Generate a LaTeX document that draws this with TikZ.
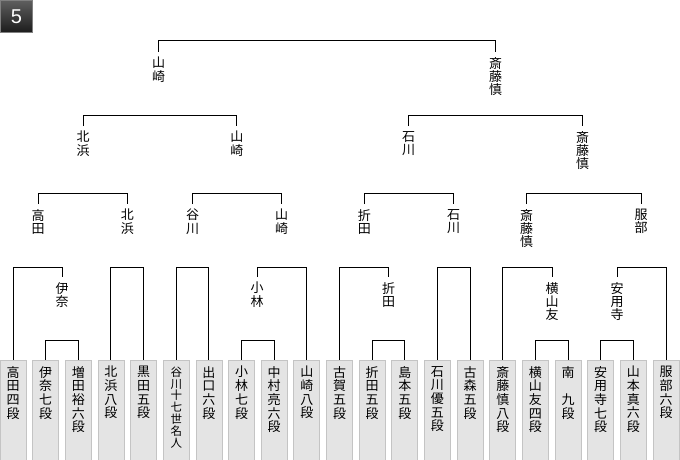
\documentclass[tikz,border=0pt]{standalone}
\usepackage{fontspec}
\usetikzlibrary{calc}
\newfontfamily\cjk{Noto Sans CJK JP}
\newfontfamily\lat{Liberation Sans}
\definecolor{boxfill}{HTML}{E4E4E4}
\definecolor{boxline}{HTML}{C4C4C4}
\definecolor{badgetop}{HTML}{5E5E5E}
\definecolor{badgebot}{HTML}{1C1C1C}
\begin{document}
\begin{tikzpicture}[x=1pt,y=-1pt,
  lbl/.style={font=\cjk\fontsize{13}{13.3}\selectfont, align=center, inner xsep=0pt, inner ysep=5pt, anchor=north},
  pbox/.style={draw=boxline, fill=boxfill, line width=0.8pt, minimum width=26pt, minimum height=100pt, inner sep=0pt, anchor=north},
  ptext/.style={font=\cjk\fontsize{13}{13.7}\selectfont, align=center, inner sep=0pt, anchor=north},
  ptextsmall/.style={font=\cjk\fontsize{11.5}{11.9}\selectfont, align=center, inner sep=0pt, anchor=north},
  conn/.style={draw=black, line width=1pt},
  badge/.style={draw=gray, line width=0.6pt, top color=badgetop, bottom color=badgebot, minimum width=32pt, minimum height=32pt, inner sep=0pt, text=white, font=\lat\fontsize{20}{20}\selectfont}
]
\useasboundingbox (0,0) rectangle (680,460);

% badge
\node[badge] (badge) at (16.5,16.5) {5};

% player boxes
\foreach \i in {0,...,20}{
  \node[pbox] (b\i) at ({13+32.65*\i},359.5) {};
}
\node[ptext] (t0) at ($(b0.north)+(0,6.5)$) {高\\田\\四\\段};
\node[ptext] (t1) at ($(b1.north)+(0,6.5)$) {伊\\奈\\七\\段};
\node[ptext] (t2) at ($(b2.north)+(0,6.5)$) {増\\田\\裕\\六\\段};
\node[ptext] (t3) at ($(b3.north)+(0,6.5)$) {北\\浜\\八\\段};
\node[ptext] (t4) at ($(b4.north)+(0,6.5)$) {黒\\田\\五\\段};
\node[ptextsmall] (t5) at ($(b5.north)+(0,7)$) {谷\\川\\十\\七\\世\\名\\人};
\node[ptext] (t6) at ($(b6.north)+(0,6.5)$) {出\\口\\六\\段};
\node[ptext] (t7) at ($(b7.north)+(0,6.5)$) {小\\林\\七\\段};
\node[ptext] (t8) at ($(b8.north)+(0,6.5)$) {中\\村\\亮\\六\\段};
\node[ptext] (t9) at ($(b9.north)+(0,6.5)$) {山\\崎\\八\\段};
\node[ptext] (t10) at ($(b10.north)+(0,6.5)$) {古\\賀\\五\\段};
\node[ptext] (t11) at ($(b11.north)+(0,6.5)$) {折\\田\\五\\段};
\node[ptext] (t12) at ($(b12.north)+(0,6.5)$) {島\\本\\五\\段};
\node[ptext] (t13) at ($(b13.north)+(0,6.5)$) {石\\川\\優\\五\\段};
\node[ptext] (t14) at ($(b14.north)+(0,6.5)$) {古\\森\\五\\段};
\node[ptext] (t15) at ($(b15.north)+(0,6.5)$) {斎\\藤\\慎\\八\\段};
\node[ptext] (t16) at ($(b16.north)+(0,6.5)$) {横\\山\\友\\四\\段};
\node[ptext] (t17) at ($(b17.north)+(0,6.5)$) {南\\\phantom{九}\\九\\段};
\node[ptext] (t18) at ($(b18.north)+(0,6.5)$) {安\\用\\寺\\七\\段};
\node[ptext] (t19) at ($(b19.north)+(0,6.5)$) {山\\本\\真\\六\\段};
\node[ptext] (t20) at ($(b20.north)+(0,6.5)$) {服\\部\\六\\段};

% round-of-16 winners
\node[lbl] (r1) at (62,277) {伊\\奈};
\node[lbl] (r2) at (257,277) {小\\林};
\node[lbl] (r3) at (388.5,277) {折\\田};
\node[lbl] (r4) at (552,277) {横\\山\\友};
\node[lbl] (r5) at (617,277) {安\\用\\寺};

% quarter-final winners
\node[lbl] (q1) at (38,204) {高\\田};
\node[lbl] (q2) at (127.3,204) {北\\浜};
\node[lbl] (q3) at (192.5,204) {谷\\川};
\node[lbl] (q4) at (281.7,204) {山\\崎};
\node[lbl] (q5) at (364.3,204) {折\\田};
\node[lbl] (q6) at (453.7,204) {石\\川};
\node[lbl] (q7) at (526.5,204) {斎\\藤\\慎};
\node[lbl] (q8) at (641,204) {服\\部};

% semi-final winners
\node[lbl] (s1) at (83,126) {北\\浜};
\node[lbl] (s2) at (236.8,126) {山\\崎};
\node[lbl] (s3) at (408.5,126) {石\\川};
\node[lbl] (s4) at (582.5,126) {斎\\藤\\慎};

% finalists
\node[lbl] (f1) at (158.5,52) {山\\崎};
\node[lbl] (f2) at (495.5,52) {斎\\藤\\慎};

% first round
\draw[conn] (b1.north) -- ++(0,-19.5) -| (b2.north);
\draw[conn] (b7.north) -- ++(0,-19.5) -| (b8.north);
\draw[conn] (b11.north) -- ++(0,-19.5) -| (b12.north);
\draw[conn] (b16.north) -- ++(0,-19.5) -| (b17.north);
\draw[conn] (b18.north) -- ++(0,-19.5) -| (b19.north);

% second round
\draw[conn] (b0.north) -- ++(0,-92.5) -| (r1.north);
\draw[conn] (b3.north) -- ++(0,-92.5) -| (b4.north);
\draw[conn] (b5.north) -- ++(0,-92.5) -| (b6.north);
\draw[conn] (r2.north) -- ++(0,-10) -| (b9.north);
\draw[conn] (b10.north) -- ++(0,-92.5) -| (r3.north);
\draw[conn] (b13.north) -- ++(0,-92.5) -| (b14.north);
\draw[conn] (b15.north) -- ++(0,-92.5) -| (r4.north);
\draw[conn] (r5.north) -- ++(0,-10) -| (b20.north);

% quarter-finals
\draw[conn] (q1.north) -- ++(0,-11) -| (q2.north);
\draw[conn] (q3.north) -- ++(0,-11) -| (q4.north);
\draw[conn] (q5.north) -- ++(0,-11) -| (q6.north);
\draw[conn] (q7.north) -- ++(0,-11) -| (q8.north);

% semi-finals
\draw[conn] (s1.north) -- ++(0,-11) -| (s2.north);
\draw[conn] (s3.north) -- ++(0,-11) -| (s4.north);

% final
\draw[conn] (f1.north) -- ++(0,-11) -| (f2.north);
\end{tikzpicture}
\end{document}
